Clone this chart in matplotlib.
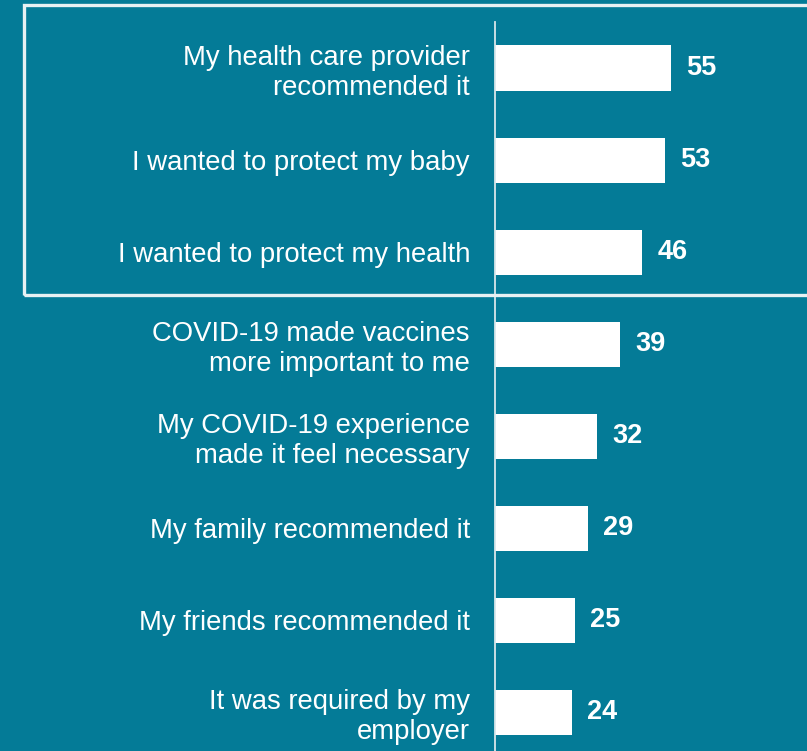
import matplotlib.pyplot as plt
from matplotlib.patches import Rectangle

# Reasons for getting vaccinated (percent of respondents)
reasons = [
    "My health care provider\nrecommended it",
    "I wanted to protect my baby",
    "I wanted to protect my health",
    "COVID-19 made vaccines\nmore important to me",
    "My COVID-19 experience\nmade it feel necessary",
    "My family recommended it",
    "My friends recommended it",
    "It was required by my\nemployer",
]
percents = [55, 53, 46, 39, 32, 29, 25, 24]

bg = "#047b97"
plt.rcParams['font.family'] = ['Liberation Sans', 'DejaVu Sans']

fig = plt.figure(figsize=(8.07, 7.51), dpi=100, facecolor=bg)
ax = fig.add_axes([495 / 807, 0, 312 / 807, (751 - 22) / 751])
ax.set_facecolor(bg)

pos = list(range(len(reasons)))
ax.barh(pos, percents, height=0.49, color="white")
ax.set_xlim(0, 97.5)
ax.set_ylim(7.42, -0.5)

ax.set_yticks(pos)
ax.set_yticklabels(reasons, fontsize=19.8, color="white", linespacing=1.2)
ax.tick_params(axis="y", length=0, pad=18)
ax.set_xticks([])

for side in ["top", "right", "bottom"]:
    ax.spines[side].set_visible(False)
ax.spines["left"].set_color("#d8e6ea")
ax.spines["left"].set_linewidth(1.3)

for y, v in zip(pos, percents):
    ax.annotate(str(v), (v, y), xytext=(11, 0), textcoords="offset points",
                va="center", ha="left", fontsize=19.5, fontweight="bold",
                color="white")

# frame around the top three reasons
fig.patches.append(Rectangle((24 / 807, 1 - 295 / 751), 800 / 807, 290 / 751,
                             transform=fig.transFigure, fill=False,
                             edgecolor="#e8f1f3", linewidth=2.4))

fig.savefig("out.png", dpi=100, facecolor=bg)
